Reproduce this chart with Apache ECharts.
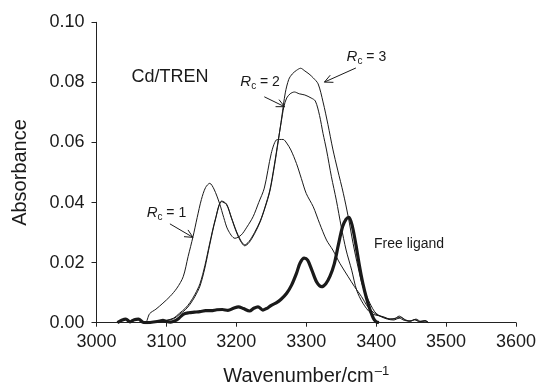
<!DOCTYPE html>
<html>
<head>
<meta charset="utf-8">
<script src="https://cdn.jsdelivr.net/npm/echarts@6/dist/echarts.min.js"></script>
<style>
	html, body { margin: 0; padding: 0; background: #fff; }
	#main { width: 536px; height: 388px; }
</style>
</head>
<body>
<div id="main"></div>
<script>
// x tick labels and y tick labels
var xTicks = [3000, 3100, 3200, 3300, 3400, 3500, 3600];
var yTicks = [0, 0.02, 0.04, 0.06, 0.08, 0.10];

// Rc = 1
var rc1X = [3030, 3036, 3042, 3048, 3054, 3060, 3066, 3070, 3076, 3085, 3095, 3105, 3115, 3124, 3131, 3138, 3144, 3150, 3156, 3162, 3168, 3176, 3182, 3188, 3198, 3207, 3215, 3224, 3232, 3240, 3250, 3257, 3262, 3267, 3272, 3278, 3286, 3293, 3300, 3310, 3319, 3329, 3338, 3348, 3360, 3369, 3379, 3388, 3398, 3407, 3416, 3425, 3433, 3440, 3448, 3455, 3462, 3470, 3475];
var rc1Y = [0, 0.0008, 0.0012, 0.0003, 0.001, 0.0012, 0.0002, 0, 0.003, 0.0045, 0.0065, 0.0087, 0.0115, 0.0153, 0.022, 0.0286, 0.035, 0.041, 0.045, 0.0464, 0.0445, 0.0397, 0.035, 0.0309, 0.0281, 0.0292, 0.0318, 0.0353, 0.04, 0.0448, 0.0564, 0.0608, 0.061, 0.061, 0.0598, 0.0575, 0.053, 0.048, 0.043, 0.0386, 0.0331, 0.0275, 0.0242, 0.0198, 0.0153, 0.012, 0.0087, 0.0053, 0.0031, 0.002, 0.0012, 0.0009, 0.0015, 0.0008, 0.0005, 0.001, 0.0004, 0.0006, 0];

// Rc = 2
var rc2X = [3030, 3036, 3042, 3048, 3054, 3060, 3066, 3070, 3090, 3100, 3110, 3119, 3127, 3134, 3141, 3148, 3155, 3162, 3170, 3179, 3186, 3193, 3200, 3206, 3212, 3218, 3226, 3234, 3241, 3248, 3254, 3260, 3264, 3268, 3272, 3277, 3283, 3290, 3298, 3307, 3313, 3319, 3324, 3329, 3336, 3343, 3350, 3357, 3365, 3372, 3381, 3393, 3410, 3420, 3428, 3435, 3442, 3450, 3457, 3464, 3470, 3475];
var rc2Y = [0, 0.0008, 0.0012, 0.0003, 0.001, 0.0012, 0.0002, 0, 0.0005, 0.0008, 0.0015, 0.0032, 0.0048, 0.0068, 0.0095, 0.013, 0.019, 0.0265, 0.0345, 0.0405, 0.0395, 0.035, 0.0305, 0.0275, 0.0259, 0.027, 0.03, 0.0338, 0.0385, 0.0442, 0.052, 0.0608, 0.0665, 0.0719, 0.0748, 0.0762, 0.0768, 0.0762, 0.0758, 0.0748, 0.0738, 0.069, 0.063, 0.0575, 0.0486, 0.0408, 0.032, 0.0242, 0.0175, 0.0109, 0.0065, 0.0031, 0.002, 0.0012, 0.0015, 0.0018, 0.0008, 0.0006, 0.0012, 0.0004, 0.0007, 0];

// Rc = 3
var rc3X = [3030, 3036, 3042, 3048, 3054, 3060, 3066, 3070, 3090, 3100, 3110, 3119, 3127, 3134, 3141, 3148, 3155, 3162, 3170, 3179, 3186, 3193, 3200, 3206, 3212, 3218, 3226, 3234, 3241, 3248, 3254, 3260, 3265, 3270, 3275, 3280, 3286, 3292, 3298, 3304, 3310, 3317, 3324, 3331, 3338, 3345, 3353, 3360, 3367, 3374, 3381, 3391, 3400, 3414, 3425, 3433, 3440, 3448, 3455, 3462, 3470, 3475];
var rc3Y = [0, 0.0008, 0.0012, 0.0003, 0.001, 0.0012, 0.0002, 0, 0.0005, 0.0007, 0.0013, 0.0028, 0.0043, 0.0062, 0.0088, 0.0122, 0.0182, 0.026, 0.0342, 0.0403, 0.0393, 0.0348, 0.0302, 0.0272, 0.0256, 0.0266, 0.0296, 0.0335, 0.0382, 0.0438, 0.0515, 0.0605, 0.0685, 0.0765, 0.081, 0.0828, 0.084, 0.0847, 0.0838, 0.0828, 0.0815, 0.0795, 0.0735, 0.066, 0.0578, 0.0508, 0.0431, 0.0353, 0.0264, 0.0186, 0.012, 0.0065, 0.0031, 0.0015, 0.0012, 0.0022, 0.0012, 0.0005, 0.001, 0.0004, 0.0006, 0];

// free ligand (thick)
var freeX = [3030, 3036, 3042, 3048, 3054, 3060, 3066, 3070, 3090, 3095, 3100, 3106, 3112, 3118, 3124, 3132, 3140, 3148, 3156, 3164, 3172, 3180, 3188, 3196, 3203, 3210, 3219, 3225, 3231, 3238, 3244, 3250, 3257, 3264, 3272, 3279, 3286, 3291, 3297, 3302, 3308, 3315, 3322, 3328, 3334, 3340, 3346, 3352, 3357, 3361, 3366, 3371, 3376, 3381, 3386, 3391, 3396, 3400, 3404];
var freeY = [0, 0.0008, 0.0012, 0.0003, 0.001, 0.0012, 0.0002, 0, 0.0005, 0.0008, 0.0004, 0.0002, 0.0006, 0.0015, 0.0028, 0.0033, 0.0035, 0.0037, 0.004, 0.004, 0.0043, 0.0044, 0.0041, 0.0048, 0.0053, 0.0047, 0.0039, 0.0048, 0.0053, 0.0042, 0.0048, 0.0058, 0.0066, 0.0078, 0.0098, 0.0125, 0.0164, 0.0198, 0.0215, 0.0208, 0.0175, 0.0135, 0.012, 0.013, 0.0155, 0.0195, 0.026, 0.032, 0.0345, 0.0351, 0.032, 0.026, 0.019, 0.013, 0.0083, 0.0045, 0.0015, 0.0003, 0];

// text notes, placed in data units
var notes = [
	{ text: 'Cd/TREN', at: [3105, 0.0819], size: 18 },
	{ text: '{i|R}{s|c}{t| = 1}', at: [3100, 0.0365], tail: [3105, 0.0329], tip: [3138, 0.0284] },
	{ text: '{i|R}{s|c}{t| = 2}', at: [3234, 0.0801], tail: [3240, 0.0752], tip: [3269, 0.0719] },
	{ text: '{i|R}{s|c}{t| = 3}', at: [3386, 0.0884], tail: [3371, 0.0848], tip: [3326, 0.0801] },
	{ text: 'Free ligand', at: [3447, 0.0262], size: 14 }
];

var ink = '#1a1a1a';
var font = 'Liberation Sans, Arial, sans-serif';

function pairs(xs, ys) {
	return xs.map(function (x, i) { return [x, ys[i]]; });
}

function lineSeries(name, xs, ys, width) {
	return {
		name: name,
		type: 'line',
		data: pairs(xs, ys),
		showSymbol: false,
		smooth: 0.3,
		lineStyle: { color: ink, width: width },
		z: width > 2 ? 5 : 3
	};
}

var chart = echarts.init(document.getElementById('main'));

var option = {
	animation: false,
	backgroundColor: '#fff',
	grid: { left: 96.5, right: 20, top: 22.3, bottom: 65.3, containLabel: false, outerBoundsMode: 'none' },
	xAxis: {
		type: 'value',
		min: xTicks[0],
		max: xTicks[xTicks.length - 1],
		interval: 100,
		name: 'Wavenumber/cm{sup|–1}',
		nameLocation: 'middle',
		nameGap: 42,
		nameTextStyle: {
			color: ink, fontSize: 20, fontFamily: font, lineHeight: 24,
			rich: { sup: { fontSize: 13, fontFamily: font, color: ink, verticalAlign: 'top', lineHeight: 24, padding: [0, 0, 12, 1] } }
		},
		axisLine: { lineStyle: { color: '#222', width: 1 } },
		axisTick: { inside: false, length: 4, lineStyle: { color: '#222' } },
		axisLabel: {
			color: ink, fontSize: 18, fontFamily: font, margin: 10,
			formatter: function (v) { return String(v); }
		},
		splitLine: { show: false }
	},
	yAxis: {
		type: 'value',
		min: yTicks[0],
		max: yTicks[yTicks.length - 1],
		interval: 0.02,
		name: 'Absorbance',
		nameLocation: 'middle',
		nameGap: 66,
		nameTextStyle: { color: ink, fontSize: 20, fontFamily: font },
		axisLine: { show: true, lineStyle: { color: '#222', width: 1 } },
		axisTick: { show: true, inside: false, length: 5, lineStyle: { color: '#222' } },
		axisLabel: {
			color: ink, fontSize: 18, fontFamily: font, margin: 12,
			formatter: function (v) { return v.toFixed(2); }
		},
		splitLine: { show: false }
	},
	series: [
		lineSeries('Rc = 1', rc1X, rc1Y, 1),
		lineSeries('Rc = 2', rc2X, rc2Y, 1),
		lineSeries('Rc = 3', rc3X, rc3Y, 1),
		lineSeries('Free ligand', freeX, freeY, 3.2)
	]
};

chart.setOption(option);

// notes and arrows
function toPx(p) {
	return chart.convertToPixel({ xAxisIndex: 0, yAxisIndex: 0 }, p);
}

var graphics = [];
notes.forEach(function (n) {
	var c = toPx(n.at);
	graphics.push({
		type: 'text',
		x: c[0],
		y: c[1],
		style: {
			text: n.text,
			font: (n.size || 14) + 'px ' + font,
			fill: ink,
			align: 'center',
			verticalAlign: 'middle',
			rich: {
				i: { fontStyle: 'italic', fontSize: 15, fontFamily: font, fill: ink, lineHeight: 18, verticalAlign: 'middle' },
				s: { fontSize: 10, fontFamily: font, fill: ink, lineHeight: 18, verticalAlign: 'bottom', padding: [6, 0, 0, 0] },
				t: { fontSize: 14, fontFamily: font, fill: ink, lineHeight: 18, verticalAlign: 'middle' }
			}
		},
		z: 10
	});
	if (n.tip) {
		var a = toPx(n.tail);
		var b = toPx(n.tip);
		var ang = Math.atan2(a[1] - b[1], a[0] - b[0]);
		var len = 9;
		graphics.push({
			type: 'polyline',
			shape: { points: [a, b] },
			style: { stroke: ink, lineWidth: 1, fill: null },
			z: 10
		});
		graphics.push({
			type: 'polyline',
			shape: {
				points: [
					[b[0] + len * Math.cos(ang + 0.45), b[1] + len * Math.sin(ang + 0.45)],
					b,
					[b[0] + len * Math.cos(ang - 0.45), b[1] + len * Math.sin(ang - 0.45)]
				]
			},
			style: { stroke: ink, lineWidth: 1, fill: null },
			z: 10
		});
	}
});

chart.setOption({ graphic: graphics });
</script>
</body>
</html>
